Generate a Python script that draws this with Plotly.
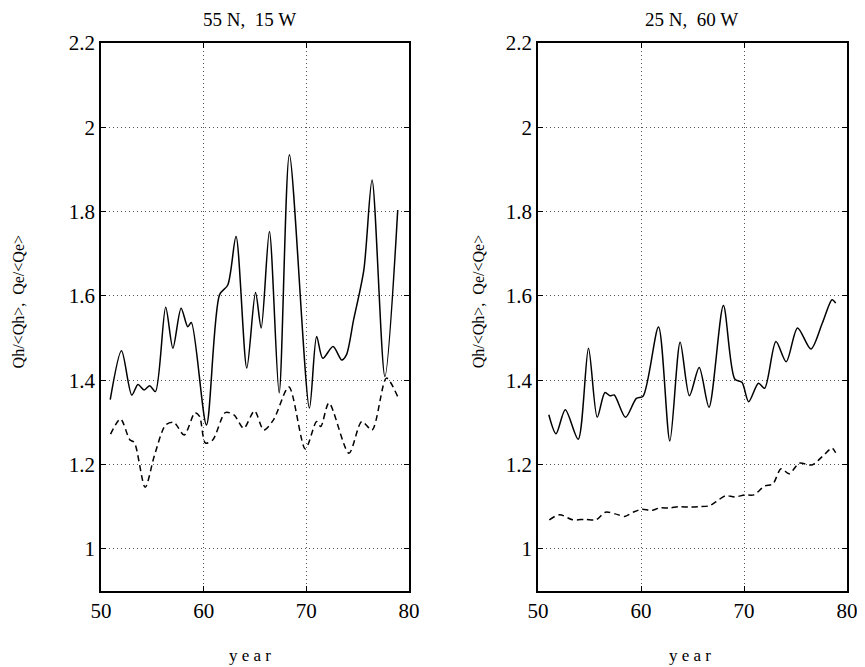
import plotly.graph_objects as go
from plotly.subplots import make_subplots

# ---- data ----
left_qh_year = [50.9, 52.0, 53.0, 53.6, 54.2, 54.75, 55.3, 56.3, 57.0, 57.8, 58.45, 58.8,
                60.27, 61.55, 62.35, 63.15, 64.2, 65.05, 65.6, 66.4, 67.35, 68.35, 70.3,
                71.0, 71.6, 72.6, 73.45, 73.9, 74.6, 75.6, 76.4, 77.65, 78.9]
left_qh = [1.354, 1.47, 1.365, 1.39, 1.377, 1.387, 1.373, 1.573, 1.476, 1.571, 1.527, 1.537,
           1.294, 1.603, 1.626, 1.741, 1.429, 1.608, 1.524, 1.753, 1.37, 1.935, 1.334,
           1.504, 1.452, 1.48, 1.448, 1.46, 1.543, 1.662, 1.875, 1.409, 1.804]

left_qe_year = [50.93, 51.9, 52.8, 53.25, 54.3, 55.2, 56.3, 57.1, 58.1, 59.15, 59.6, 60.17,
                60.9, 62.1, 62.95, 63.9, 64.95, 65.85, 66.8, 68.3, 69.9, 71.0, 71.4, 72.2,
                74.15, 75.4, 76.4, 77.8, 78.9]
left_qe = [1.272, 1.308, 1.259, 1.252, 1.146, 1.221, 1.294, 1.30, 1.27, 1.323, 1.314, 1.251,
           1.259, 1.323, 1.318, 1.286, 1.327, 1.282, 1.306, 1.384, 1.237, 1.302, 1.29, 1.346,
           1.227, 1.302, 1.282, 1.405, 1.361]

right_qh_year = [51.05, 51.75, 52.65, 53.9, 54.9, 55.75, 56.5, 57.0, 57.4, 58.5, 59.55, 60.2,
                 61.7, 62.8, 63.8, 64.7, 65.65, 66.6, 68.0, 69.1, 69.8, 70.45, 71.4, 72.0,
                 73.1, 74.1, 75.2, 76.5, 77.6, 78.55, 78.9]
right_qh = [1.318, 1.273, 1.33, 1.26, 1.476, 1.312, 1.371, 1.363, 1.365, 1.312, 1.357, 1.362,
            1.526, 1.256, 1.49, 1.363, 1.43, 1.336, 1.577, 1.403, 1.395, 1.349, 1.393, 1.381,
            1.492, 1.444, 1.524, 1.474, 1.535, 1.591, 1.583]

right_qe_year = [51.1, 52.1, 53.35, 54.6, 55.65, 56.55, 57.5, 58.4, 59.25, 60.1, 61.0, 61.8,
                 62.75, 63.7, 64.7, 65.65, 66.6, 67.3, 68.2, 69.1, 70.1, 70.95, 72.0, 72.8,
                 73.6, 74.4, 75.35, 76.6, 77.6, 78.55, 78.9]
right_qe = [1.069, 1.081, 1.069, 1.07, 1.069, 1.087, 1.083, 1.077, 1.087, 1.094, 1.091, 1.097,
            1.097, 1.10, 1.099, 1.10, 1.102, 1.112, 1.126, 1.123, 1.128, 1.128, 1.149, 1.154,
            1.19, 1.178, 1.203, 1.199, 1.219, 1.239, 1.228]

x_ticks = [50, 60, 70, 80]
y_ticks = [1.0, 1.2, 1.4, 1.6, 1.8, 2.0, 2.2]
y_tick_text = ["1", "1.2", "1.4", "1.6", "1.8", "2", "2.2"]
titles = ["55 N,  15 W", "25 N,  60 W"]
x_title = "y e a r"
y_title = "Qh/&lt;Qh&gt;,  Qe/&lt;Qe&gt;"

FONT = "Liberation Serif, Times New Roman, DejaVu Serif, serif"

fig = make_subplots(rows=1, cols=2, horizontal_spacing=0.1729)

line_solid = dict(color="black", width=1.5, shape="spline", smoothing=0.8)
line_dash = dict(color="black", width=1.5, shape="spline", smoothing=0.8, dash="6px,4px")

fig.add_trace(go.Scatter(x=left_qh_year, y=left_qh, mode="lines", line=line_solid), 1, 1)
fig.add_trace(go.Scatter(x=left_qe_year, y=left_qe, mode="lines", line=line_dash), 1, 1)
fig.add_trace(go.Scatter(x=right_qh_year, y=right_qh, mode="lines", line=line_solid), 1, 2)
fig.add_trace(go.Scatter(x=right_qe_year, y=right_qe, mode="lines", line=line_dash), 1, 2)

axis_common = dict(
    showline=True, linecolor="black", linewidth=1.5, mirror="ticks",
    ticks="inside", ticklen=5, tickcolor="black", tickwidth=1,
    showgrid=True, gridcolor="#555555", gridwidth=1, griddash="1px,3px",
    zeroline=False, tickfont=dict(family=FONT, size=21, color="black"),
)

fig.update_xaxes(range=[50, 80], tickvals=x_ticks, **axis_common)
fig.update_yaxes(range=[0.9, 2.2], tickvals=y_ticks, ticktext=y_tick_text, **axis_common)

fig.update_xaxes(domain=[0.0, 0.4129], row=1, col=1)
fig.update_xaxes(domain=[0.5858, 1.0], row=1, col=2)


def note(text, x, y, size, angle=0, yanchor="middle"):
    return dict(text=text, x=x, y=y, xref="paper", yref="paper", xanchor="center",
                yanchor=yanchor, textangle=angle, showarrow=False, borderpad=0,
                font=dict(family=FONT, size=size, color="black"))


annotations = [
    note(titles[0], 0.1997, 1.0639, 19, yanchor="top"),
    note(titles[1], 0.7918, 1.0639, 19, yanchor="top"),
    note(x_title, 0.1997, -0.1168, 17),
    note(x_title, 0.7895, -0.1168, 17),
    note(y_title, -0.111, 0.527, 16, -90),
    note(y_title, 0.5054, 0.527, 16, -90),
]

fig.update_layout(
    width=865, height=667,
    margin=dict(l=93, r=26, t=35, b=84, autoexpand=False),
    paper_bgcolor="white", plot_bgcolor="white",
    showlegend=False,
    annotations=annotations,
    font=dict(family=FONT, color="black"),
)

fig.write_html("out.html")
